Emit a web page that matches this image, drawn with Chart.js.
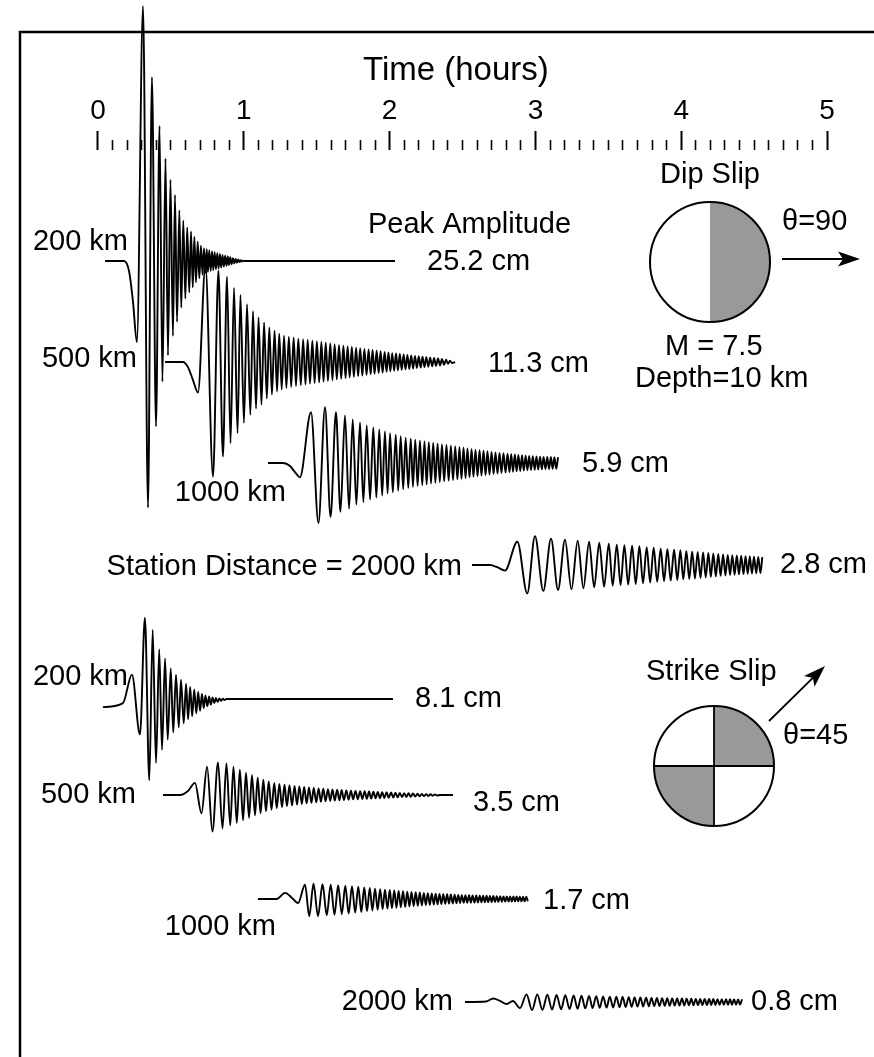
<!DOCTYPE html>
<html><head><meta charset="utf-8">
<script src="https://cdn.jsdelivr.net/npm/chart.js@4.4.1/dist/chart.umd.min.js"></script>
<style>html,body{margin:0;padding:0;background:#fff;}canvas{display:block;}</style>
</head><body>
<canvas id="c" width="874" height="1057"></canvas>
<script>
// ================= DATA =================
const distancesKm = [200, 500, 1000, 2000];
const dipPeakCm = [25.2, 11.3, 5.9, 2.8];
const strikePeakCm = [8.1, 3.5, 1.7, 0.8];
const timeTickLabels = [0, 1, 2, 3, 4, 5];

// waveform extrema: [time (hours), sea-surface height (cm)]
const dip200 = [[0.048,0],[0.178,0],[0.213,-1.0],[0.240,-4.0],[0.267,-8.0],[0.309,25.1],[0.343,-24.3],[0.370,18.1],[0.398,-16.3],[0.422,13.3],[0.442,-11.9],[0.463,10.1],[0.480,-9.3],[0.497,8.0],[0.514,-7.4],[0.528,6.5],[0.542,-6.0],[0.558,5.0],[0.571,-4.6],[0.585,4.0],[0.599,-3.7],[0.612,3.3],[0.626,-3.1],[0.638,2.9],[0.650,-2.6],[0.661,2.4],[0.672,-2.1],[0.684,1.9],[0.695,-1.7],[0.706,1.5],[0.717,-1.35],[0.727,1.25],[0.737,-1.2],[0.746,1.15],[0.754,-1.1],[0.763,1.05],[0.773,-1.0],[0.782,0.95],[0.791,-0.9],[0.800,0.85],[0.809,-0.8],[0.818,0.77],[0.827,-0.73],[0.836,0.7],[0.845,-0.65],[0.854,0.6],[0.863,-0.56],[0.872,0.52],[0.881,-0.48],[0.890,0.44],[0.898,-0.4],[0.907,0.36],[0.916,-0.32],[0.926,0.28],[0.935,-0.24],[0.944,0.2],[0.953,-0.17],[0.962,0.14],[0.971,-0.11],[0.979,0.08],[0.988,-0.05],[0.997,0.03],[1.008,0],[2.037,0]];

const dip500 = [[0.460,0],[0.583,0],[0.617,-0.5],[0.652,-1.8],[0.686,-3.0],[0.737,9.5],[0.789,-11.3],[0.826,9.0],[0.857,-9.3],[0.885,8.4],[0.909,-8.0],[0.933,7.3],[0.957,-7.0],[0.977,6.6],[1.001,-6.0],[1.022,5.7],[1.045,-5.2],[1.063,5.0],[1.084,-4.6],[1.101,4.4],[1.121,-4.2],[1.139,3.9],[1.158,-3.6],[1.175,3.4],[1.193,-3.2],[1.211,3.1],[1.228,-2.9],[1.243,2.8],[1.260,-2.7],[1.276,2.6],[1.292,-2.55],[1.309,2.5],[1.325,-2.45],[1.342,2.4],[1.358,-2.35],[1.374,2.3],[1.391,-2.27],[1.407,2.23],[1.423,-2.2],[1.438,2.17],[1.454,-2.13],[1.470,2.1],[1.486,-2.06],[1.501,2.03],[1.517,-2.0],[1.532,1.97],[1.547,-1.93],[1.562,1.9],[1.577,-1.86],[1.593,1.82],[1.608,-1.78],[1.623,1.74],[1.638,-1.7],[1.653,1.67],[1.668,-1.64],[1.683,1.6],[1.698,-1.57],[1.712,1.54],[1.726,-1.51],[1.741,1.48],[1.755,-1.45],[1.770,1.42],[1.784,-1.39],[1.798,1.36],[1.813,-1.33],[1.827,1.3],[1.842,-1.27],[1.856,1.24],[1.870,-1.21],[1.883,1.18],[1.897,-1.15],[1.911,1.12],[1.925,-1.09],[1.938,1.06],[1.952,-1.03],[1.966,1.0],[1.979,-0.97],[1.992,0.94],[2.005,-0.91],[2.018,0.88],[2.031,-0.86],[2.044,0.84],[2.057,-0.82],[2.070,0.8],[2.083,-0.77],[2.096,0.75],[2.109,-0.72],[2.122,0.7],[2.135,-0.68],[2.148,0.66],[2.161,-0.63],[2.174,0.61],[2.187,-0.59],[2.200,0.57],[2.213,-0.55],[2.226,0.53],[2.239,-0.5],[2.252,0.48],[2.265,-0.46],[2.278,0.44],[2.292,-0.42],[2.305,0.4],[2.318,-0.37],[2.332,0.35],[2.346,-0.33],[2.359,0.3],[2.373,-0.26],[2.387,0.22],[2.401,-0.18],[2.414,0.14],[2.428,-0.1],[2.449,0]];

const dip1000 = [[1.166,0],[1.269,0],[1.317,-0.3],[1.351,-0.9],[1.385,-1.4],[1.461,5.0],[1.512,-5.9],[1.557,5.5],[1.595,-5.3],[1.632,5.0],[1.663,-4.8],[1.694,4.7],[1.722,-4.5],[1.747,4.3],[1.772,-4.1],[1.797,4.0],[1.820,-3.85],[1.843,3.7],[1.866,-3.6],[1.888,3.5],[1.909,-3.4],[1.929,3.3],[1.949,-3.2],[1.968,3.1],[1.986,-3.0],[2.003,2.95],[2.022,-2.88],[2.042,2.8],[2.059,-2.72],[2.076,2.65],[2.093,-2.58],[2.110,2.5],[2.128,-2.45],[2.145,2.4],[2.160,-2.35],[2.176,2.3],[2.192,-2.25],[2.208,2.2],[2.224,-2.17],[2.239,2.13],[2.254,-2.1],[2.269,2.06],[2.284,-2.02],[2.299,1.98],[2.314,-1.95],[2.329,1.91],[2.344,-1.87],[2.359,1.84],[2.374,-1.8],[2.390,1.77],[2.405,-1.73],[2.420,1.7],[2.435,-1.67],[2.450,1.63],[2.465,-1.6],[2.479,1.57],[2.493,-1.54],[2.507,1.5],[2.521,-1.47],[2.534,1.44],[2.548,-1.41],[2.562,1.38],[2.575,-1.35],[2.589,1.32],[2.603,-1.3],[2.617,1.27],[2.630,-1.24],[2.644,1.21],[2.658,-1.18],[2.671,1.16],[2.685,-1.13],[2.699,1.1],[2.713,-1.08],[2.726,1.05],[2.740,-1.03],[2.754,1.0],[2.767,-0.98],[2.781,0.96],[2.795,-0.94],[2.809,0.92],[2.822,-0.9],[2.834,0.88],[2.846,-0.86],[2.859,0.84],[2.871,-0.82],[2.883,0.8],[2.896,-0.78],[2.908,0.76],[2.920,-0.74],[2.933,0.72],[2.945,-0.71],[2.957,0.7],[2.970,-0.68],[2.982,0.67],[2.995,-0.66],[3.007,0.65],[3.019,-0.64],[3.032,0.63],[3.044,-0.62],[3.056,0.61],[3.069,-0.6],[3.081,0.6],[3.093,-0.59],[3.106,0.59],[3.118,-0.58],[3.130,0.58],[3.143,-0.57],[3.155,0.57]];

const dip2000 = [[2.565,0],[2.689,0],[2.737,-0.2],[2.791,-0.55],[2.876,2.3],[2.944,-2.8],[2.997,2.85],[3.054,-2.55],[3.107,2.6],[3.155,-2.45],[3.203,2.5],[3.247,-2.4],[3.290,2.4],[3.329,-2.3],[3.368,2.3],[3.403,-2.2],[3.438,2.2],[3.471,-2.15],[3.503,2.1],[3.530,-2.05],[3.558,2.0],[3.584,-1.97],[3.610,1.95],[3.636,-1.92],[3.663,1.9],[3.688,-1.87],[3.713,1.85],[3.738,-1.8],[3.763,1.75],[3.787,-1.72],[3.811,1.7],[3.835,-1.65],[3.859,1.6],[3.882,-1.57],[3.905,1.55],[3.928,-1.52],[3.951,1.5],[3.973,-1.47],[3.994,1.45],[4.014,-1.42],[4.035,1.4],[4.055,-1.37],[4.075,1.35],[4.094,-1.32],[4.113,1.3],[4.132,-1.27],[4.150,1.25],[4.168,-1.22],[4.186,1.2],[4.203,-1.17],[4.220,1.15],[4.237,-1.12],[4.254,1.1],[4.270,-1.07],[4.287,1.05],[4.303,-1.02],[4.319,1.0],[4.335,-0.98],[4.350,0.97],[4.366,-0.95],[4.381,0.94],[4.396,-0.92],[4.411,0.91],[4.427,-0.9],[4.441,0.88],[4.456,-0.87],[4.470,0.85],[4.485,-0.84],[4.499,0.82],[4.514,-0.81],[4.528,0.8],[4.543,-0.79],[4.556,0.78]];

const strike200 = [[0.034,-0.8],[0.171,-0.4],[0.233,2.4],[0.288,-3.5],[0.322,8.0],[0.352,-8.0],[0.375,6.8],[0.398,-6.3],[0.420,4.9],[0.439,-5.0],[0.460,4.0],[0.478,-4.0],[0.499,3.0],[0.516,-3.3],[0.535,2.4],[0.554,-2.8],[0.569,1.9],[0.588,-2.4],[0.604,1.5],[0.618,-2.0],[0.632,1.2],[0.646,-1.7],[0.660,0.95],[0.674,-1.4],[0.687,0.7],[0.700,-1.15],[0.713,0.5],[0.725,-0.9],[0.737,0.35],[0.750,-0.7],[0.762,0.25],[0.774,-0.55],[0.786,0.15],[0.798,-0.4],[0.809,0.1],[0.821,-0.28],[0.833,0.05],[0.844,-0.18],[0.856,0.03],[0.868,-0.1],[0.881,0],[2.023,0]];

const strike500 = [[0.446,0],[0.562,0],[0.617,0.4],[0.665,1.2],[0.710,-1.8],[0.748,2.8],[0.785,-3.6],[0.823,3.2],[0.854,-3.3],[0.881,3.1],[0.907,-3.0],[0.929,2.8],[0.952,-2.75],[0.973,2.5],[0.995,-2.5],[1.015,2.2],[1.036,-2.25],[1.056,1.95],[1.077,-2.0],[1.095,1.7],[1.115,-1.8],[1.134,1.5],[1.152,-1.6],[1.171,1.35],[1.190,-1.45],[1.209,1.2],[1.226,-1.3],[1.244,1.1],[1.262,-1.2],[1.279,1.03],[1.296,-1.1],[1.313,0.96],[1.331,-1.02],[1.348,0.9],[1.365,-0.95],[1.381,0.85],[1.398,-0.88],[1.414,0.8],[1.431,-0.82],[1.447,0.75],[1.464,-0.76],[1.480,0.7],[1.497,-0.71],[1.513,0.66],[1.529,-0.66],[1.545,0.62],[1.561,-0.62],[1.577,0.58],[1.593,-0.58],[1.608,0.55],[1.624,-0.55],[1.640,0.52],[1.656,-0.52],[1.671,0.49],[1.687,-0.49],[1.703,0.46],[1.719,-0.46],[1.735,0.43],[1.750,-0.43],[1.766,0.41],[1.782,-0.41],[1.798,0.39],[1.813,-0.39],[1.829,0.37],[1.844,-0.37],[1.859,0.35],[1.874,-0.35],[1.889,0.33],[1.904,-0.33],[1.919,0.31],[1.934,-0.31],[1.949,0.29],[1.964,-0.29],[1.979,0.27],[1.994,-0.27],[2.010,0.25],[2.025,-0.25],[2.040,0.23],[2.055,-0.23],[2.070,0.21],[2.085,-0.21],[2.100,0.19],[2.115,-0.19],[2.130,0.17],[2.145,-0.17],[2.160,0.15],[2.176,-0.15],[2.191,0.13],[2.206,-0.13],[2.221,0.11],[2.236,-0.11],[2.251,0.09],[2.266,-0.09],[2.281,0.07],[2.296,-0.07],[2.311,0.05],[2.326,-0.05],[2.346,0],[2.435,0]];

const strike1000 = [[1.097,0],[1.226,0],[1.283,0.6],[1.331,0.1],[1.372,-0.4],[1.420,1.4],[1.449,-1.7],[1.478,1.5],[1.509,-1.7],[1.540,1.45],[1.569,-1.6],[1.596,1.4],[1.622,-1.55],[1.647,1.35],[1.672,-1.5],[1.696,1.3],[1.719,-1.42],[1.742,1.25],[1.764,-1.35],[1.785,1.2],[1.806,-1.28],[1.826,1.14],[1.845,-1.2],[1.864,1.08],[1.882,-1.13],[1.900,1.02],[1.918,-1.06],[1.935,0.97],[1.952,-1.0],[1.968,0.92],[1.985,-0.95],[2.001,0.88],[2.016,-0.9],[2.032,0.84],[2.047,-0.86],[2.062,0.8],[2.077,-0.82],[2.092,0.76],[2.107,-0.78],[2.121,0.72],[2.136,-0.74],[2.150,0.69],[2.165,-0.7],[2.179,0.66],[2.193,-0.67],[2.207,0.63],[2.221,-0.64],[2.235,0.6],[2.248,-0.61],[2.262,0.57],[2.276,-0.58],[2.289,0.55],[2.303,-0.55],[2.316,0.52],[2.329,-0.53],[2.342,0.5],[2.355,-0.5],[2.368,0.48],[2.381,-0.48],[2.394,0.46],[2.407,-0.46],[2.420,0.44],[2.433,-0.44],[2.446,0.42],[2.458,-0.42],[2.471,0.4],[2.483,-0.4],[2.495,0.38],[2.508,-0.38],[2.520,0.37],[2.532,-0.37],[2.545,0.36],[2.557,-0.36],[2.569,0.35],[2.582,-0.35],[2.594,0.34],[2.606,-0.34],[2.618,0.33],[2.630,-0.33],[2.641,0.32],[2.653,-0.32],[2.665,0.31],[2.676,-0.31],[2.688,0.3],[2.700,-0.3],[2.711,0.29],[2.723,-0.29],[2.735,0.28],[2.746,-0.28],[2.758,0.27],[2.770,-0.27],[2.781,0.26],[2.793,-0.26],[2.804,0.25],[2.816,-0.25],[2.827,0.25],[2.838,-0.25],[2.849,0.24],[2.860,-0.24],[2.871,0.24],[2.882,-0.24],[2.893,0.23],[2.904,-0.23],[2.915,0.23],[2.926,-0.23],[2.937,0.22],[2.948,-0.22]];

const strike2000 = [[2.517,0],[2.661,0.05],[2.711,0.35],[2.757,0.1],[2.803,-0.2],[2.846,0.1],[2.894,-0.6],[2.939,0.75],[2.977,-0.8],[3.013,0.75],[3.048,-0.78],[3.082,0.72],[3.114,-0.75],[3.145,0.7],[3.176,-0.72],[3.205,0.67],[3.234,-0.69],[3.262,0.64],[3.289,-0.66],[3.316,0.62],[3.342,-0.63],[3.368,0.6],[3.392,-0.6],[3.417,0.57],[3.441,-0.58],[3.464,0.55],[3.488,-0.56],[3.510,0.53],[3.533,-0.54],[3.555,0.51],[3.577,-0.52],[3.598,0.49],[3.619,-0.5],[3.640,0.47],[3.660,-0.48],[3.680,0.45],[3.700,-0.46],[3.720,0.44],[3.739,-0.44],[3.759,0.42],[3.778,-0.43],[3.796,0.41],[3.815,-0.41],[3.833,0.39],[3.851,-0.4],[3.869,0.38],[3.887,-0.38],[3.904,0.37],[3.921,-0.37],[3.938,0.36],[3.955,-0.36],[3.972,0.35],[3.988,-0.35],[4.005,0.34],[4.021,-0.34],[4.037,0.33],[4.053,-0.33],[4.069,0.32],[4.084,-0.32],[4.100,0.31],[4.115,-0.31],[4.130,0.3],[4.145,-0.3],[4.161,0.3],[4.176,-0.3],[4.191,0.29],[4.206,-0.29],[4.220,0.29],[4.235,-0.29],[4.249,0.28],[4.263,-0.28],[4.278,0.28],[4.292,-0.28],[4.307,0.27],[4.321,-0.27],[4.335,0.27],[4.348,-0.27],[4.362,0.26],[4.376,-0.26],[4.390,0.26],[4.403,-0.26],[4.417,0.25]];

// ================= LAYOUT (positions / styles) =================
const W = 874, H = 1057;
const X_MIN = -0.672, X_MAX = 5.322;          // hours across the canvas
const CM_PER_CANVAS = 104.14;                  // vertical cm across the canvas
const AXIS_ROW = -14.78;                       // time axis row (cm units)
const dipRows = [25.71, 35.67, 45.62, 55.67];  // trace baselines, cm below top
const strikeRows = [68.87, 78.33, 88.57, 98.72];
const FONT = '"Liberation Sans", Arial, Helvetica, sans-serif';

const traces = [
  {pts: dip200, row: dipRows[0]}, {pts: dip500, row: dipRows[1]},
  {pts: dip1000, row: dipRows[2]}, {pts: dip2000, row: dipRows[3]},
  {pts: strike200, row: strikeRows[0]}, {pts: strike500, row: strikeRows[1]},
  {pts: strike1000, row: strikeRows[2]}, {pts: strike2000, row: strikeRows[3]}
];

const minorTicks = [];
for (let i = 1; i < 50; i++) if (i % 10) minorTicks.push(i / 10);

const texts = [
  {t: 'Time (hours)', x: 363, y: 80, a: 'left', s: 33},
  {t: 'Peak Amplitude', x: 368, y: 233, a: 'left'},
  {t: distancesKm[0] + ' km', x: 128, y: 250, a: 'right'},
  {t: distancesKm[1] + ' km', x: 137, y: 367, a: 'right'},
  {t: distancesKm[2] + ' km', x: 286, y: 501, a: 'right'},
  {t: 'Station Distance = ' + distancesKm[3] + ' km', x: 462, y: 575, a: 'right'},
  {t: dipPeakCm[0].toFixed(1) + ' cm', x: 427, y: 270, a: 'left'},
  {t: dipPeakCm[1].toFixed(1) + ' cm', x: 488, y: 372, a: 'left'},
  {t: dipPeakCm[2].toFixed(1) + ' cm', x: 582, y: 472, a: 'left'},
  {t: dipPeakCm[3].toFixed(1) + ' cm', x: 780, y: 573, a: 'left'},
  {t: distancesKm[0] + ' km', x: 128, y: 685, a: 'right'},
  {t: distancesKm[1] + ' km', x: 136, y: 803, a: 'right'},
  {t: distancesKm[2] + ' km', x: 276, y: 935, a: 'right'},
  {t: distancesKm[3] + ' km', x: 453, y: 1010, a: 'right'},
  {t: strikePeakCm[0].toFixed(1) + ' cm', x: 415, y: 707, a: 'left'},
  {t: strikePeakCm[1].toFixed(1) + ' cm', x: 473, y: 811, a: 'left'},
  {t: strikePeakCm[2].toFixed(1) + ' cm', x: 543, y: 909, a: 'left'},
  {t: strikePeakCm[3].toFixed(1) + ' cm', x: 751, y: 1010, a: 'left'},
  {t: 'Dip Slip', x: 710, y: 183, a: 'center'},
  {t: '\u03B8=90', x: 782, y: 230, a: 'left'},
  {t: 'M = 7.5', x: 665, y: 355, a: 'left'},
  {t: 'Depth=10 km', x: 635, y: 387, a: 'left'},
  {t: 'Strike Slip', x: 646, y: 680, a: 'left'},
  {t: '\u03B8=45', x: 783, y: 744, a: 'left'}
];

function arrow(c, x1, y1, x2, y2) {
  const ang = Math.atan2(y2 - y1, x2 - x1), cs = Math.cos(ang), sn = Math.sin(ang);
  const L = 22, Wd = 7.5, notch = 5;
  c.beginPath(); c.moveTo(x1, y1); c.lineTo(x2 - cs * (L - notch), y2 - sn * (L - notch)); c.stroke();
  c.beginPath();
  c.moveTo(x2, y2);
  c.lineTo(x2 - L * cs + Wd * sn, y2 - L * sn - Wd * cs);
  c.lineTo(x2 - (L - notch) * cs, y2 - (L - notch) * sn);
  c.lineTo(x2 - L * cs - Wd * sn, y2 - L * sn + Wd * cs);
  c.closePath(); c.fill();
}

const decor = {
  id: 'decor',
  beforeDatasetsDraw(chart) {
    const c = chart.ctx;
    c.save();
    c.strokeStyle = '#000'; c.lineWidth = 2.5;
    c.beginPath(); c.moveTo(20, H + 5); c.lineTo(20, 32); c.lineTo(W + 5, 32); c.stroke();
    c.restore();
  },
  afterDatasetsDraw(chart) {
    const c = chart.ctx;
    c.save();
    c.fillStyle = '#000';
    texts.forEach(o => {
      c.font = (o.s || 29) + 'px ' + FONT;
      c.textAlign = o.a; c.textBaseline = 'alphabetic';
      c.fillText(o.t, o.x, o.y);
    });
    const gray = '#999999';
    // dip-slip focal sphere
    let cx = 710, cy = 262, r = 60;
    c.fillStyle = '#fff'; c.beginPath(); c.arc(cx, cy, r, 0, 2 * Math.PI); c.fill();
    c.fillStyle = gray; c.beginPath(); c.moveTo(cx, cy - r); c.arc(cx, cy, r, -Math.PI / 2, Math.PI / 2); c.closePath(); c.fill();
    c.strokeStyle = '#000'; c.lineWidth = 2; c.beginPath(); c.arc(cx, cy, r, 0, 2 * Math.PI); c.stroke();
    // strike-slip focal sphere
    cx = 714; cy = 766; r = 60;
    c.fillStyle = '#fff'; c.beginPath(); c.arc(cx, cy, r, 0, 2 * Math.PI); c.fill();
    c.fillStyle = gray;
    c.beginPath(); c.moveTo(cx, cy); c.arc(cx, cy, r, -Math.PI / 2, 0); c.closePath(); c.fill();
    c.beginPath(); c.moveTo(cx, cy); c.arc(cx, cy, r, Math.PI / 2, Math.PI); c.closePath(); c.fill();
    c.lineWidth = 1.8;
    c.beginPath(); c.moveTo(cx - r, cy); c.lineTo(cx + r, cy); c.moveTo(cx, cy - r); c.lineTo(cx, cy + r); c.stroke();
    c.lineWidth = 2; c.beginPath(); c.arc(cx, cy, r, 0, 2 * Math.PI); c.stroke();
    // arrows
    c.fillStyle = '#000'; c.lineWidth = 1.8;
    arrow(c, 782, 259, 860, 259);
    arrow(c, 769, 721, 825, 666);
    c.restore();
  }
};

const axisCommon = {
  type: 'linear', axis: 'x', min: X_MIN, max: X_MAX,
  position: {y: AXIS_ROW},
  border: {display: false}
};

new Chart(document.getElementById('c'), {
  type: 'line',
  data: {
    datasets: traces.map(tr => ({
      data: tr.pts.map(p => ({x: p[0], y: p[1] - tr.row})),
      xAxisID: 'x', yAxisID: 'y',
      borderColor: '#000', borderWidth: 1.9,
      pointRadius: 0, fill: false,
      cubicInterpolationMode: 'monotone'
    }))
  },
  options: {
    responsive: false, animation: false, devicePixelRatio: 1,
    layout: {padding: 0},
    plugins: {legend: {display: false}, tooltip: {enabled: false}},
    scales: {
      x: {type: 'linear', min: X_MIN, max: X_MAX, display: false},
      y: {type: 'linear', min: -CM_PER_CANVAS, max: 0, display: false},
      xMinor: Object.assign({}, axisCommon, {
        grid: {display: true, drawOnChartArea: false, drawTicks: true, tickLength: -10, tickWidth: 1.6, tickColor: '#000'},
        ticks: {display: false, autoSkip: false},
        afterBuildTicks: s => { s.ticks = minorTicks.map(v => ({value: v})); }
      }),
      xMajor: Object.assign({}, axisCommon, {
        grid: {display: true, drawOnChartArea: false, drawTicks: true, tickLength: -19, tickWidth: 2, tickColor: '#000'},
        ticks: {display: true, autoSkip: false, maxRotation: 0, padding: -37, color: '#000',
                font: {family: FONT, size: 28}, callback: v => String(v)},
        afterBuildTicks: s => { s.ticks = timeTickLabels.map(v => ({value: v})); }
      })
    }
  },
  plugins: [decor]
});
</script>
</body></html>
